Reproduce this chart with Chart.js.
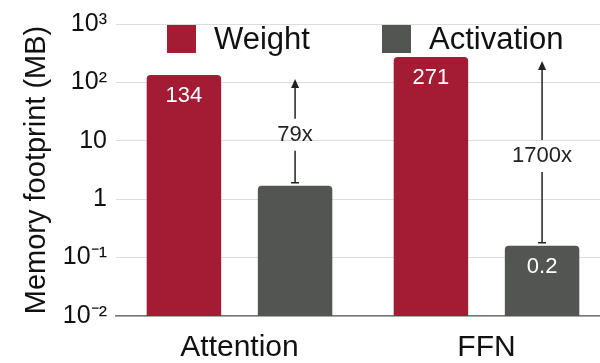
<!DOCTYPE html>
<html lang="en">
<head>
    <meta charset="UTF-8">
    <title>Memory footprint</title>
    <script src="https://cdn.jsdelivr.net/npm/chart.js"></script>
    <style>
        body { margin: 0; background: #fff; overflow: hidden; }
        .wrap { width: 600px; height: 363px; overflow: hidden; }
    </style>
</head>
<body>
    <!-- the plot in the figure runs a little past the right edge, so the canvas is wider and clipped -->
    <div class="wrap"><canvas id="memChart" width="610" height="363"></canvas></div>
    <script>
        // data
        const categories = ['Attention', 'FFN'];
        const weightMB = [134, 271];
        const activationMB = [1.7, 0.16];
        const weightLabels = ['134', '271'];
        const activationLabels = ['', '0.2'];
        const ratioLabels = ['79x', '1700x'];
        const yTickValues = [0.01, 0.1, 1, 10, 100, 1000];
        const yTickLabels = ['10⁻²', '10⁻¹', '1', '10', '10²', '10³'];

        const FONT = "'Liberation Sans', Arial, sans-serif";
        const RED = '#a31c33';
        const GRAY = '#535553';

        // white numbers inside the bars + ratio arrows + legend
        const annotations = {
            id: 'annotations',
            afterDatasetsDraw(chart) {
                const ctx = chart.ctx;
                const y = chart.scales.y;
                ctx.save();
                ctx.textAlign = 'center';
                ctx.textBaseline = 'middle';
                ctx.fillStyle = '#fff';
                ctx.font = '22px ' + FONT;
                [weightLabels, activationLabels].forEach((labels, d) => {
                    chart.getDatasetMeta(d).data.forEach((bar, i) => {
                        if (labels[i]) ctx.fillText(labels[i], bar.x, bar.y + 21);
                    });
                });

                // arrows from weight height down to activation top
                ctx.strokeStyle = '#222';
                ctx.fillStyle = '#222';
                ctx.lineWidth = 1.5;
                chart.getDatasetMeta(1).data.forEach((bar, i) => {
                    const x = bar.x;
                    const top = y.getPixelForValue(weightMB[i]) + 4;
                    const bot = y.getPixelForValue(activationMB[i]) - 3;
                    const mid = (top + bot) / 2 + 4;
                    const gap = 16;
                    ctx.beginPath();
                    ctx.moveTo(x, top + 8);
                    ctx.lineTo(x, mid - gap);
                    ctx.moveTo(x, mid + gap);
                    ctx.lineTo(x, bot);
                    ctx.moveTo(x - 4, bot);
                    ctx.lineTo(x + 4, bot);
                    ctx.stroke();
                    ctx.beginPath();
                    ctx.moveTo(x, top);
                    ctx.lineTo(x - 4, top + 9);
                    ctx.lineTo(x + 4, top + 9);
                    ctx.closePath();
                    ctx.fill();
                    ctx.font = '22px ' + FONT;
                    ctx.fillText(ratioLabels[i], x, mid);
                });

                // legend sitting inside the plot
                ctx.textAlign = 'left';
                ctx.font = '31px ' + FONT;
                const items = [
                    { label: 'Weight', color: RED, x: 167 },
                    { label: 'Activation', color: GRAY, x: 382 }
                ];
                items.forEach(it => {
                    ctx.fillStyle = it.color;
                    ctx.fillRect(it.x, 25, 29, 28);
                    ctx.fillStyle = '#111';
                    ctx.fillText(it.label, it.x + 47, 40);
                });
                ctx.restore();
            }
        };

        new Chart(document.getElementById('memChart'), {
            type: 'bar',
            data: {
                labels: categories,
                datasets: [{
                    label: 'Weight',
                    data: weightMB,
                    backgroundColor: RED,
                    borderRadius: { topLeft: 4, topRight: 4 },
                    borderSkipped: 'bottom'
                }, {
                    label: 'Activation',
                    data: activationMB,
                    backgroundColor: GRAY,
                    borderRadius: { topLeft: 4, topRight: 4 },
                    borderSkipped: 'bottom'
                }]
            },
            options: {
                responsive: false,
                animation: false,
                categoryPercentage: 0.9,
                barPercentage: 0.67,
                layout: { padding: { top: 22, right: 0 } },
                plugins: {
                    legend: { display: false },
                    tooltip: { enabled: false }
                },
                scales: {
                    x: {
                        grid: { display: false },
                        border: { color: '#777', width: 1.5 },
                        ticks: { color: '#111', font: { family: FONT, size: 30 }, padding: 6 },
                        afterFit: scale => { scale.height = 47; }
                    },
                    y: {
                        type: 'logarithmic',
                        min: 0.01,
                        max: 1000,
                        afterBuildTicks: axis => {
                            axis.ticks = yTickValues.map(v => ({ value: v }));
                        },
                        border: { display: false },
                        grid: { color: '#dcdcdc', drawTicks: false },
                        ticks: {
                            color: '#111',
                            font: { family: FONT, size: 25 },
                            padding: 9,
                            callback: (v) => yTickLabels[yTickValues.indexOf(v)]
                        },
                        title: {
                            display: true,
                            text: 'Memory footprint (MB)',
                            color: '#111',
                            font: { family: FONT, size: 29 },
                            padding: { top: 20, bottom: 0 }
                        },
                        afterFit: scale => { scale.width = 116; }
                    }
                }
            },
            plugins: [annotations]
        });
    </script>
</body>
</html>
